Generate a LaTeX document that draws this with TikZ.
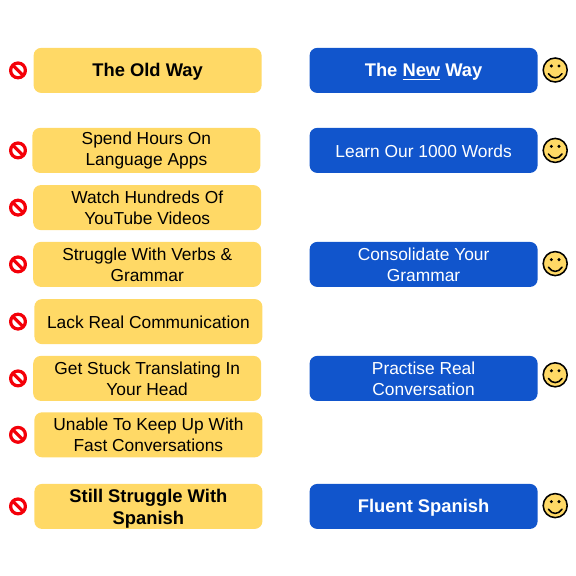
\documentclass[tikz,border=0pt]{standalone}
\usepackage{fontspec}
\setmainfont{Liberation Sans}
\definecolor{oldfill}{HTML}{FFD966}
\definecolor{newfill}{HTML}{1155CC}
\definecolor{nored}{HTML}{F40009}
\tikzset{
  oldbox/.style={draw=none,fill=oldfill,rounded corners=0.19cm,minimum width=5.7cm,minimum height=1.125cm,
    inner sep=0pt,align=center,font=\fontsize{12.35}{14.9}\selectfont,text=black,
    execute at begin node={\rule{0pt}{10.2pt}}},
  newbox/.style={oldbox,fill=newfill,text=white},
  headtext/.style={font=\fontsize{13.05}{15.6}\selectfont\bfseries,
    execute at begin node={\rule{0pt}{11.6pt}}},
}
\begin{document}
\begin{tikzpicture}[line cap=round,line join=round]
  \useasboundingbox (0,0) rectangle (14.4,-14.4);
  % left column
  \node[oldbox,headtext] (oldhead) at (3.69,-1.76) {The Old Way};
  \node[oldbox] (apps) at (3.66,-3.76) {Spend Hours On\\Language Apps};
  \node[oldbox] (videos) at (3.68,-5.19) {Watch Hundreds Of\\YouTube Videos};
  \node[oldbox] (verbs) at (3.68,-6.61) {Struggle With Verbs \&\\Grammar};
  \node[oldbox] (lack) at (3.71,-8.04) {Lack Real Communication};
  \node[oldbox] (stuck) at (3.68,-9.46) {Get Stuck Translating In\\Your Head};
  \node[oldbox] (unable) at (3.71,-10.87) {Unable To Keep Up With\\Fast Conversations};
  \node[oldbox,headtext] (still) at (3.71,-12.66) {Still Struggle With\\\smash{Spanish}};
  % right column
  \node[newbox,headtext] (newhead) at (10.59,-1.76) {The \underline{New} Way};
  \node[newbox] (words) at (10.59,-3.76) {Learn Our 1000 Words};
  \node[newbox] (grammar) at (10.59,-6.61) {Consolidate Your\\Grammar};
  \node[newbox] (talk) at (10.59,-9.46) {Practise Real\\Conversation};
  \node[newbox,headtext] (fluent) at (10.59,-12.66) {Fluent Spanish};
  % no signs
  \foreach \y in {-1.76,-3.76,-5.19,-6.61,-8.04,-9.46,-10.87,-12.66} {
    \begin{scope}[shift={(0.45,\y)}]
      \draw[nored,line width=2.3pt] (0,0) circle (0.185);
      \draw[nored,line width=2.3pt,line cap=butt] (135:0.185) -- (-45:0.185);
    \end{scope}
  }
  % smileys
  \foreach \y in {-1.75,-3.76,-6.59,-9.37,-12.64} {
    \begin{scope}[shift={(13.88,\y)}]
      \draw[fill=oldfill,line width=1.1pt] (0,0) circle (0.3);
      \fill (-0.095,0.1) circle (0.042);
      \fill (0.095,0.1) circle (0.042);
      \draw[line width=1.1pt] (-0.17,-0.09) .. controls (-0.08,-0.23) and (0.08,-0.23) .. (0.17,-0.09);
    \end{scope}
  }
\end{tikzpicture}
\end{document}
